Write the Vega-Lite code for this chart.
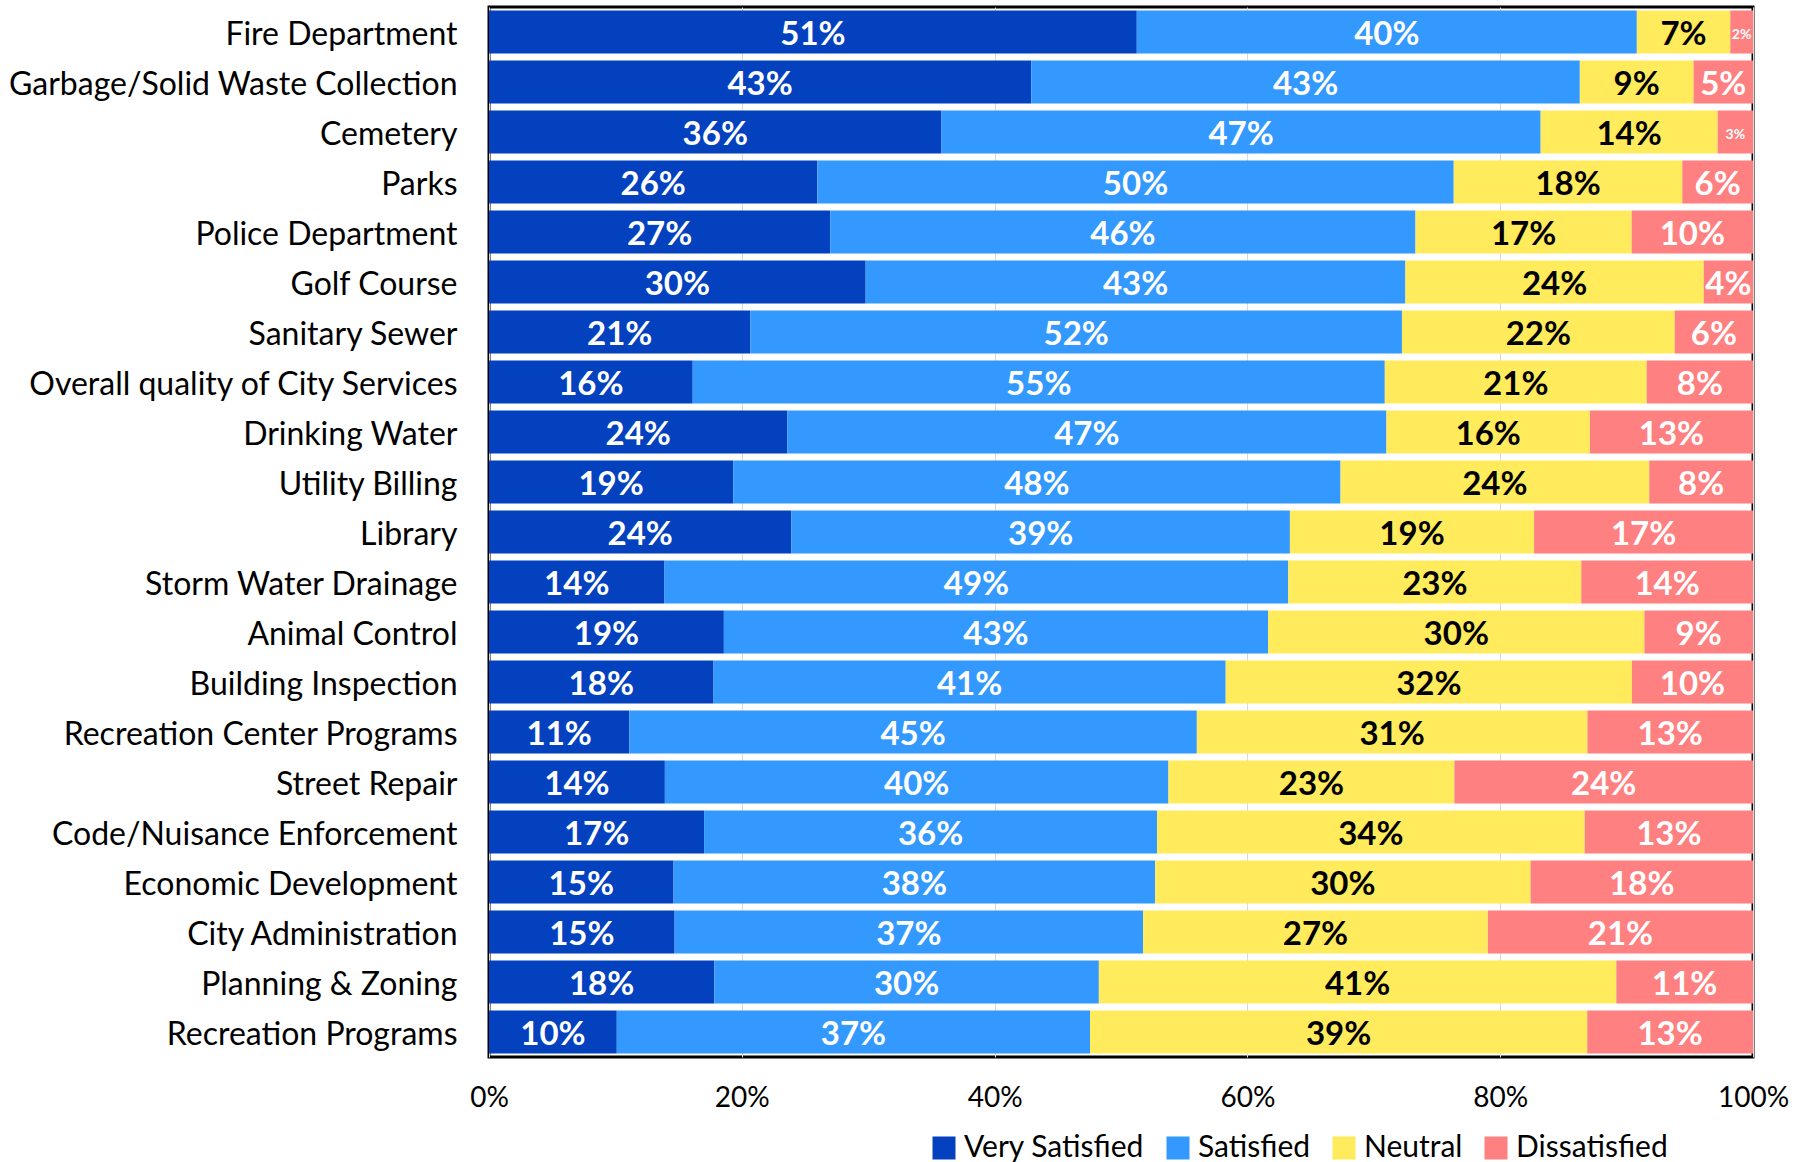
{
  "$schema": "https://vega.github.io/schema/vega-lite/v6.json",
  "width": 1264,
  "height": 1050,
  "autosize": {"type": "none"},
  "padding": {"left": 489, "top": 7, "right": 52, "bottom": 105},
  "background": "white",
  "config": {
    "view": {"stroke": "black", "strokeWidth": 3},
    "font": "Lato"
  },
  "data": {
    "values": [
      {"service": "Fire Department", "Very Satisfied": 0.513, "Satisfied": 0.396, "Neutral": 0.074, "Dissatisfied": 0.018},
      {"service": "Garbage/Solid Waste Collection", "Very Satisfied": 0.429, "Satisfied": 0.434, "Neutral": 0.090, "Dissatisfied": 0.047},
      {"service": "Cemetery", "Very Satisfied": 0.358, "Satisfied": 0.474, "Neutral": 0.140, "Dissatisfied": 0.028},
      {"service": "Parks", "Very Satisfied": 0.260, "Satisfied": 0.504, "Neutral": 0.181, "Dissatisfied": 0.056},
      {"service": "Police Department", "Very Satisfied": 0.270, "Satisfied": 0.463, "Neutral": 0.171, "Dissatisfied": 0.096},
      {"service": "Golf Course", "Very Satisfied": 0.298, "Satisfied": 0.427, "Neutral": 0.236, "Dissatisfied": 0.039},
      {"service": "Sanitary Sewer", "Very Satisfied": 0.207, "Satisfied": 0.516, "Neutral": 0.216, "Dissatisfied": 0.062},
      {"service": "Overall quality of City Services", "Very Satisfied": 0.161, "Satisfied": 0.547, "Neutral": 0.207, "Dissatisfied": 0.084},
      {"service": "Drinking Water", "Very Satisfied": 0.236, "Satisfied": 0.474, "Neutral": 0.161, "Dissatisfied": 0.129},
      {"service": "Utility Billing", "Very Satisfied": 0.193, "Satisfied": 0.480, "Neutral": 0.244, "Dissatisfied": 0.082},
      {"service": "Library", "Very Satisfied": 0.239, "Satisfied": 0.394, "Neutral": 0.193, "Dissatisfied": 0.173},
      {"service": "Storm Water Drainage", "Very Satisfied": 0.139, "Satisfied": 0.494, "Neutral": 0.232, "Dissatisfied": 0.136},
      {"service": "Animal Control", "Very Satisfied": 0.186, "Satisfied": 0.431, "Neutral": 0.298, "Dissatisfied": 0.086},
      {"service": "Building Inspection", "Very Satisfied": 0.178, "Satisfied": 0.406, "Neutral": 0.322, "Dissatisfied": 0.096},
      {"service": "Recreation Center Programs", "Very Satisfied": 0.111, "Satisfied": 0.449, "Neutral": 0.309, "Dissatisfied": 0.131},
      {"service": "Street Repair", "Very Satisfied": 0.139, "Satisfied": 0.398, "Neutral": 0.226, "Dissatisfied": 0.236},
      {"service": "Code/Nuisance Enforcement", "Very Satisfied": 0.170, "Satisfied": 0.358, "Neutral": 0.338, "Dissatisfied": 0.133},
      {"service": "Economic Development", "Very Satisfied": 0.146, "Satisfied": 0.381, "Neutral": 0.297, "Dissatisfied": 0.176},
      {"service": "City Administration", "Very Satisfied": 0.147, "Satisfied": 0.371, "Neutral": 0.273, "Dissatisfied": 0.210},
      {"service": "Planning & Zoning", "Very Satisfied": 0.178, "Satisfied": 0.304, "Neutral": 0.409, "Dissatisfied": 0.108},
      {"service": "Recreation Programs", "Very Satisfied": 0.101, "Satisfied": 0.374, "Neutral": 0.393, "Dissatisfied": 0.131}
    ]
  },
  "transform": [
    {"fold": ["Very Satisfied", "Satisfied", "Neutral", "Dissatisfied"], "as": ["cat", "p"]},
    {"stack": "p", "groupby": ["service"], "sort": [{"field": "cat", "order": "descending"}], "offset": "normalize", "as": ["x0", "x1"]},
    {"calculate": "(datum.x0 + datum.x1) / 2", "as": "xm"}
  ],
  "encoding": {
    "y": {
      "field": "service",
      "type": "nominal",
      "sort": null,
      "scale": {"paddingInner": 0.14, "paddingOuter": 0.07},
      "axis": {
        "title": null,
        "ticks": false,
        "domain": false,
        "labelFontSize": 32,
        "labelFont": "Lato",
        "labelColor": "black",
        "labelPadding": 32,
        "labelOffset": 3,
        "labelLimit": 600
      }
    }
  },
  "layer": [
    {
      "mark": {"type": "bar"},
      "encoding": {
        "x": {
          "field": "x0",
          "type": "quantitative",
          "scale": {"domain": [0, 1], "nice": false},
          "axis": {
            "title": null,
            "format": ".0%",
            "values": [0, 0.2, 0.4, 0.6, 0.8, 1],
            "ticks": false,
            "domain": false,
            "grid": true,
            "gridColor": "#d9d9d9",
            "gridWidth": 1,
            "labelFontSize": 28,
            "labelFont": "Lato",
            "labelColor": "black",
            "labelPadding": 27,
            "labelFlush": false
          }
        },
        "x2": {"field": "x1"},
        "color": {
          "field": "cat",
          "type": "nominal",
          "scale": {
            "domain": ["Very Satisfied", "Satisfied", "Neutral", "Dissatisfied"],
            "range": ["#0341BF", "#3399FF", "#FFEB5B", "#FF8080"]
          },
          "legend": {
            "title": null,
            "orient": "none",
            "direction": "horizontal",
            "legendX": 440,
            "legendY": 1126,
            "symbolType": "square",
            "symbolSize": 529,
            "symbolStrokeWidth": 0,
            "labelFontSize": 30,
            "labelFont": "Lato",
            "labelColor": "black",
            "labelOffset": 5,
            "labelLimit": 400,
            "columnPadding": 18
          }
        }
      }
    },
    {
      "mark": {"type": "text", "fontWeight": "bold", "font": "Lato", "baseline": "middle", "align": "center", "dy": 3},
      "encoding": {
        "x": {"field": "xm", "type": "quantitative"},
        "text": {"field": "p", "type": "quantitative", "format": ".0%"},
        "size": {"condition": {"test": "datum.p < 0.035", "value": 14}, "value": 33},
        "color": {"condition": {"test": "datum.cat === 'Neutral'", "value": "black"}, "value": "white"}
      }
    }
  ]
}
